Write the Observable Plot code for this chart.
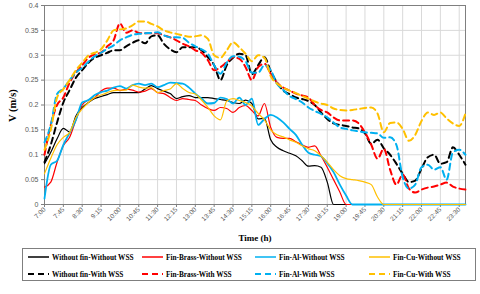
<!DOCTYPE html>
<html>
<head>
<meta charset="utf-8">
<script src="https://cdn.jsdelivr.net/npm/d3@7"></script>
<script src="https://cdn.jsdelivr.net/npm/@observablehq/plot@0.6"></script>
<style>
  html, body { margin: 0; padding: 0; background: #fff; }
  #wrap { position: relative; width: 480px; height: 294px; }
  #legend {
    position: absolute; left: 22px; top: 248px; width: 454px; height: 33px;
    border: 1px solid #7f7f7f; box-sizing: border-box;
    font-family: "Liberation Serif", "Times New Roman", serif; font-weight: bold; font-size: 7.3px; color: #000;
  }
  .item { position: absolute; display: flex; align-items: center; white-space: nowrap; height: 10px; }
  .item svg { margin-right: 3px; }
</style>
</head>
<body>
<div id="wrap">
  <div id="chart"></div>
  <div id="legend"></div>
</div>
<script>
// ---- data ----
const times = [
  "7:00","7:15","7:30","7:45","8:00","8:15","8:30","8:45","9:00","9:15","9:30","9:45",
  "10:00","10:15","10:30","10:45","11:00","11:15","11:30","11:45","12:00","12:15","12:30","12:45",
  "13:00","13:15","13:30","13:45","14:00","14:15","14:30","14:45","15:00","15:15","15:30","15:45",
  "16:00","16:15","16:30","16:45","17:00","17:15","17:30","17:45","18:00","18:15","18:30","18:45",
  "19:00","19:15","19:30","19:45","20:00","20:15","20:30","20:45","21:00","21:15","21:30","21:45",
  "22:00","22:15","22:30","22:45","23:00","23:15","23:30","23:45"
];
const tickLabels = ["7:00","7:45","8:30","9:15","10:00","10:45","11:30","12:15","13:00","13:45","14:30",
  "15:15","16:00","16:45","17:30","18:15","19:00","19:45","20:30","21:15","22:00","22:45","23:30"];
const yTicks = [0, 0.05, 0.1, 0.15, 0.2, 0.25, 0.3, 0.35, 0.4];

const withoutFinWithoutWSS = [
  0.082,0.105,0.132,0.153, 0.146,0.178,0.195,0.205, 0.213,0.217,0.221,0.225,
  0.225,0.225,0.225,0.225, 0.232,0.239,0.233,0.228, 0.223,0.213,0.217,0.219,
  0.215,0.215,0.215,0.213, 0.211,0.209,0.205,0.203, 0.21,0.203,0.172,0.173,
  0.13,0.115,0.108,0.103, 0.098,0.088,0.077,0.078, 0.075,0.045,0,0,
  0,0,0,0, 0,0,0,0, 0,0,0,0, 0,0,0,0, 0,0,0,0
];
const brassWithoutWSS = [
  0.035,0.045,0.085,0.118, 0.135,0.17,0.2,0.21, 0.215,0.228,0.234,0.234,
  0.229,0.232,0.23,0.226, 0.228,0.233,0.225,0.223, 0.215,0.209,0.213,0.211,
  0.209,0.2,0.193,0.189, 0.195,0.193,0.185,0.195, 0.199,0.189,0.178,0.203,
  0.155,0.135,0.133,0.133, 0.126,0.12,0.115,0.118, 0.098,0.075,0.05,0.025,
  0,0,0,0, 0,0,0,0, 0,0,0,0, 0,0,0,0, 0,0,0,0
];
const alWithoutWSS = [
  0.012,0.08,0.088,0.12, 0.144,0.17,0.205,0.21, 0.22,0.226,0.229,0.235,
  0.238,0.233,0.24,0.243, 0.24,0.243,0.236,0.24, 0.245,0.244,0.243,0.235,
  0.223,0.213,0.203,0.204, 0.215,0.212,0.203,0.215, 0.2,0.213,0.16,0.172,
  0.18,0.175,0.165,0.152, 0.14,0.12,0.104,0.1, 0.097,0.083,0.065,0.04,
  0.018,0,0,0, 0,0,0,0, 0,0,0,0, 0,0,0,0, 0,0,0,0
];
const cuWithoutWSS = [
  0.062,0.093,0.12,0.135, 0.145,0.175,0.192,0.205, 0.215,0.22,0.225,0.229,
  0.23,0.23,0.24,0.236, 0.234,0.235,0.225,0.229, 0.232,0.243,0.233,0.225,
  0.222,0.21,0.195,0.178, 0.17,0.208,0.213,0.209, 0.205,0.198,0.183,0.17,
  0.15,0.14,0.136,0.13, 0.125,0.118,0.112,0.108, 0.098,0.085,0.07,0.058,
  0.052,0.05,0.048,0.045, 0.04,0.015,0,0, 0,0,0,0, 0,0,0,0, 0,0,0,0
];
const withoutFinWithWSS = [
  0.085,0.12,0.165,0.205, 0.23,0.255,0.27,0.285, 0.295,0.3,0.305,0.31,
  0.31,0.318,0.325,0.33, 0.324,0.338,0.34,0.323, 0.312,0.306,0.316,0.316,
  0.316,0.31,0.296,0.28, 0.25,0.28,0.295,0.303, 0.3,0.262,0.28,0.296,
  0.268,0.245,0.229,0.222, 0.215,0.212,0.208,0.2, 0.185,0.172,0.163,0.16,
  0.158,0.155,0.153,0.143, 0.122,0.13,0.113,0.1, 0.082,0.062,0.045,0.048,
  0.072,0.095,0.1,0.082, 0.085,0.115,0.1,0.08
];
const brassWithWSS = [
  0.10,0.16,0.2,0.215, 0.245,0.265,0.28,0.295, 0.302,0.305,0.318,0.33,
  0.364,0.345,0.35,0.345, 0.344,0.344,0.344,0.34, 0.336,0.33,0.323,0.318,
  0.31,0.305,0.29,0.27, 0.276,0.286,0.296,0.293, 0.276,0.25,0.276,0.283,
  0.263,0.245,0.235,0.229, 0.223,0.219,0.215,0.2, 0.19,0.185,0.175,0.169,
  0.169,0.169,0.163,0.145, 0.12,0.092,0.112,0.07, 0.04,0.06,0.032,0.024,
  0.03,0.034,0.036,0.04, 0.044,0.036,0.032,0.03
];
const alWithWSS = [
  0.125,0.16,0.222,0.233, 0.25,0.265,0.275,0.287, 0.298,0.305,0.313,0.32,
  0.33,0.336,0.341,0.343, 0.344,0.345,0.346,0.34, 0.336,0.336,0.335,0.325,
  0.318,0.312,0.303,0.28, 0.263,0.285,0.298,0.297, 0.288,0.265,0.265,0.28,
  0.27,0.243,0.23,0.218, 0.212,0.205,0.195,0.188, 0.182,0.175,0.165,0.155,
  0.152,0.149,0.147,0.145, 0.144,0.143,0.134,0.135, 0.12,0.055,0.032,0.04,
  0.075,0.08,0.07,0.075, 0.05,0.105,0.11,0.1
];
const cuWithWSS = [
  0.11,0.15,0.215,0.232, 0.25,0.27,0.285,0.3, 0.305,0.312,0.33,0.35,
  0.352,0.354,0.36,0.368, 0.368,0.363,0.358,0.35, 0.346,0.343,0.34,0.337,
  0.338,0.34,0.333,0.3, 0.295,0.31,0.326,0.316, 0.303,0.288,0.3,0.295,
  0.258,0.243,0.235,0.229, 0.224,0.218,0.213,0.207, 0.203,0.2,0.193,0.19,
  0.189,0.19,0.192,0.194, 0.195,0.183,0.145,0.164, 0.165,0.152,0.128,0.14,
  0.168,0.185,0.18,0.185, 0.173,0.163,0.158,0.183
];

const seriesNames = [
  "Without fin-Without WSS","Fin-Brass-Without WSS","Fin-Al-Without WSS","Fin-Cu-Without WSS",
  "Without fin-With WSS","Fin-Brass-With WSS","Fin-Al-With WSS","Fin-Cu-With WSS"
];
const seriesValues = [withoutFinWithoutWSS, brassWithoutWSS, alWithoutWSS, cuWithoutWSS,
  withoutFinWithWSS, brassWithWSS, alWithWSS, cuWithWSS];
const seriesColors = ["#000000","#ff0000","#00b0f0","#ffc000","#000000","#ff0000","#00b0f0","#ffc000"];
const seriesDashed = [false,false,false,false,true,true,true,true];
const seriesWidths = [1.2,1.2,1.8,1.2,2,2,2,2];

// ---- helpers ----
const toHours = s => { const [h, m] = s.split(":").map(Number); return h + m / 60; };
const tickValues = tickLabels.map(toHours);
const labelOf = new Map(tickValues.map((v, i) => [v, tickLabels[i]]));

const lineMarks = seriesNames.map((name, k) => {
  const rows = times.map((t, i) => ({t: toHours(t), v: seriesValues[k][i]}));
  return Plot.line(rows, {
    x: "t", y: "v", stroke: seriesColors[k], strokeWidth: seriesWidths[k],
    strokeDasharray: seriesDashed[k] ? "6,4" : null, curve: "monotone-x"
  });
});

const chart = Plot.plot({
  width: 480, height: 248,
  marginLeft: 44, marginRight: 15, marginTop: 5, marginBottom: 44,
  style: {fontFamily: "'Liberation Sans', Arial, sans-serif", fontSize: "6.5px", color: "#595959", background: "#fff"},
  x: {domain: [7, 23.75], label: null},
  y: {domain: [0, 0.4], label: null},
  marks: [
    Plot.gridX(tickValues, {stroke: "#d9d9d9", strokeOpacity: 1}),
    Plot.gridY(yTicks, {stroke: "#d9d9d9", strokeOpacity: 1}),
    Plot.frame({stroke: "#7f7f7f"}),
    Plot.axisY({ticks: yTicks, tickFormat: d => String(d), tickSize: 3, tickPadding: 3, stroke: "#7f7f7f", fontSize: 7, label: null}),
    Plot.axisX({ticks: tickValues, tickFormat: d => labelOf.get(d), tickSize: 3, tickPadding: 1, tickRotate: -45, stroke: "#7f7f7f", label: null}),
    ...lineMarks,
    Plot.text(["Time (h)"], {frameAnchor: "bottom", dy: 36, fontFamily: "'Liberation Serif', 'Times New Roman', serif", fontWeight: "bold", fontSize: 9, fill: "#000"}),
    Plot.text(["V (m/s)"], {frameAnchor: "left", dx: -32, dy: 17, rotate: -90, fontFamily: "'Liberation Serif', 'Times New Roman', serif", fontWeight: "bold", fontSize: 10.5, fill: "#000"})
  ]
});
document.getElementById("chart").appendChild(chart);

// ---- legend ----
const legend = document.getElementById("legend");
const colX = [5, 119, 232, 346];
const rowY = [3, 20];
seriesNames.forEach((name, k) => {
  const item = document.createElement("div");
  item.className = "item";
  item.style.left = colX[k % 4] + "px";
  item.style.top = rowY[Math.floor(k / 4)] + "px";
  const dash = seriesDashed[k] ? 'stroke-dasharray="6,4"' : "";
  item.innerHTML = `<svg width="21" height="6"><line x1="0" y1="3" x2="21" y2="3" stroke="${seriesColors[k]}" stroke-width="${seriesDashed[k] ? 2 : 1.5}" ${dash}/></svg><span>${name}</span>`;
  legend.appendChild(item);
});
</script>
</body>
</html>
